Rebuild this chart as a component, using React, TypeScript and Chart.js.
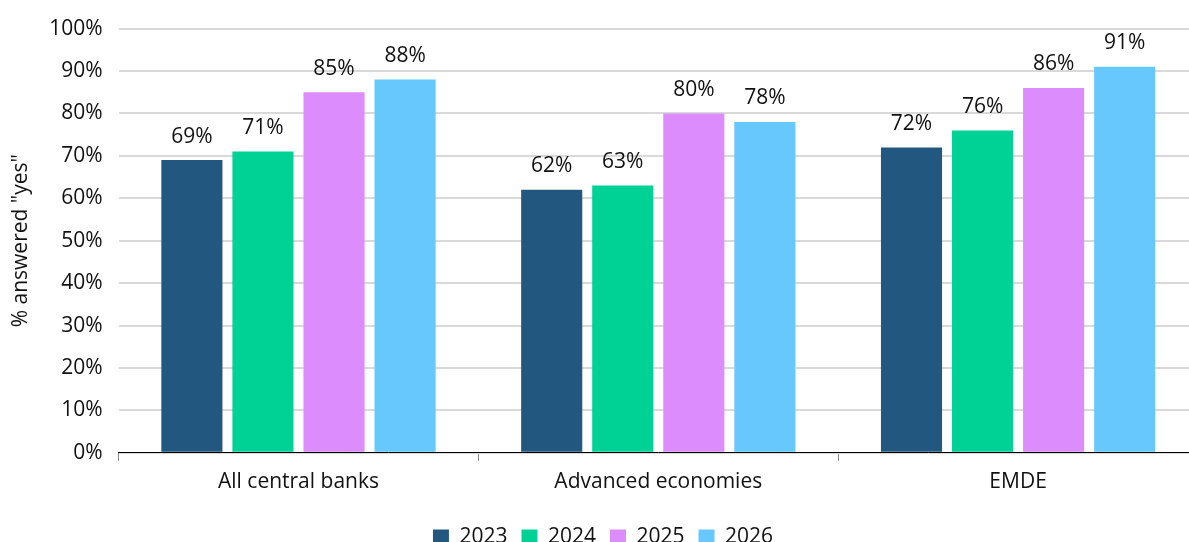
import React, { useEffect, useRef } from "react";
import { Chart, registerables } from "chart.js";

Chart.register(...registerables);

const categories = ["All central banks", "Advanced economies", "EMDE"];
const seriesNames = ["2023", "2024", "2025", "2026"];
const values2023 = [69, 62, 72];
const values2024 = [71, 63, 76];
const values2025 = [85, 80, 86];
const values2026 = [88, 78, 91];
const colors = ["#22577f", "#00d296", "#dd8cfd", "#66c8fd"];
const yTicks = [0, 10, 20, 30, 40, 50, 60, 70, 80, 90, 100];

const FONT = "'Open Sans', 'Noto Sans', sans-serif";
const FS = 21;

const labelPlugin = {
  id: "barLabels",
  afterDatasetsDraw(chart: any) {
    const ctx = chart.ctx;
    ctx.save();
    ctx.font = `${FS}px ${FONT}`;
    ctx.fillStyle = "#111";
    ctx.textAlign = "center";
    ctx.textBaseline = "bottom";
    chart.data.datasets.forEach((ds: any, i: number) => {
      const meta = chart.getDatasetMeta(i);
      meta.data.forEach((el: any, j: number) => {
        ctx.fillText(ds.data[j] + "%", el.x, el.y - 13);
      });
    });
    ctx.restore();
  },
};

export default function App() {
  const ref = useRef<HTMLCanvasElement>(null);
  useEffect(() => {
    document.body.style.margin = "0";
    const all = [values2023, values2024, values2025, values2026];
    const chart = new Chart(ref.current!, {
      type: "bar",
      data: {
        labels: categories,
        datasets: seriesNames.map((n, i) => ({
          label: n,
          data: all[i],
          backgroundColor: colors[i],
          categoryPercentage: 0.79,
          barPercentage: 0.86,
        })),
      },
      options: {
        responsive: false,
        animation: false,
        layout: { padding: { top: 5, right: 10, left: 8, bottom: -16 } },
        plugins: {
          legend: {
            position: "bottom",
            labels: {
              font: { family: FONT, size: FS },
              color: "#111",
              boxWidth: 16,
              boxHeight: 16,
              padding: 14,
            },
          },
          tooltip: { enabled: false },
        },
        scales: {
          x: {
            afterFit(scale: any) {
              scale.height += 9;
            },
            grid: {
              drawOnChartArea: false,
              drawTicks: true,
              tickLength: 8,
              offset: true,
              color: "#888",
            },
            border: { display: true, color: "#000", width: 1 },
            ticks: { font: { family: FONT, size: FS }, color: "#111", padding: 9 },
          },
          y: {
            min: 0,
            max: 100,
            afterBuildTicks(scale: any) {
              scale.ticks = yTicks.map((v) => ({ value: v }));
            },
            grid: { color: "#d9d9d9", lineWidth: 2, drawTicks: false },
            border: { display: false },
            ticks: {
              font: { family: FONT, size: FS },
              color: "#111",
              padding: 16,
              callback: (v: any) => v + "%",
            },
            title: {
              display: true,
              text: '% answered "yes"',
              font: { family: FONT, size: FS },
              color: "#111",
              padding: { top: 0, bottom: 0 },
            },
          },
        },
      },
      plugins: [labelPlugin],
    });
    return () => chart.destroy();
  }, []);
  return (
    <div style={{ width: 1189, height: 542, overflow: "hidden" }}>
      <canvas ref={ref} width={1208} height={542} />
    </div>
  );
}
